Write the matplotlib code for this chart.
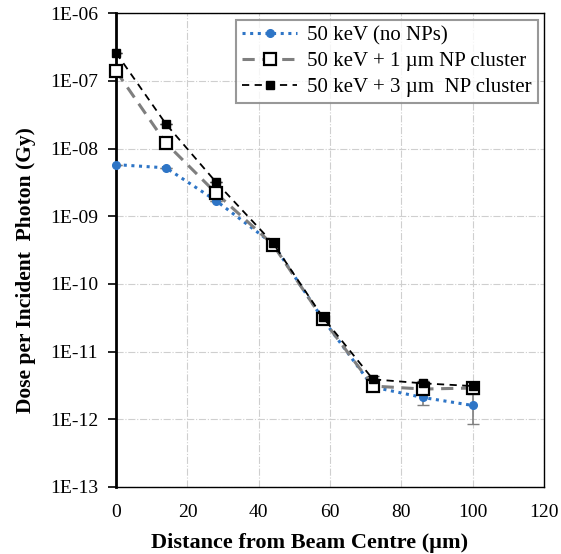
import math
import matplotlib
matplotlib.use("Agg")
import matplotlib.pyplot as plt
from matplotlib.ticker import FixedLocator, FuncFormatter

plt.rcParams['font.family'] = ['Liberation Serif', 'DejaVu Serif']

# distance from beam centre (um)
distance = [0, 14, 28, 44, 58, 72, 86, 100]

# dose per incident photon (Gy)
dose_no_np = [5.8e-9, 5.2e-9, 1.7e-9, 3.9e-10, 3.0e-11, 3.0e-12, 2.1e-12, 1.6e-12]
dose_1um = [1.4e-7, 1.2e-8, 2.2e-9, 3.8e-10, 3.0e-11, 3.1e-12, 2.8e-12, 2.9e-12]
dose_3um = [2.6e-7, 2.3e-8, 3.2e-9, 4.0e-10, 3.2e-11, 3.9e-12, 3.4e-12, 3.1e-12]

# error bars (Gy)
err_no_np = [0, 0, 0, 0, 0, 0, 0.5e-12, 0.75e-12]
err_3um = [0, 0, 0, 0, 0, 0.4e-12, 0.3e-12, 0.4e-12]

labels = ['50 keV (no NPs)', '50 keV + 1 \u00b5m NP cluster', '50 keV + 3 \u00b5m  NP cluster']

fig = plt.figure(figsize=(5.61, 5.54), dpi=100)
ax = fig.add_axes([0.207, 0.121, 0.763, 0.855])

# error bars
ax.errorbar(distance, dose_no_np, yerr=err_no_np, fmt='none', ecolor='#7f7f7f',
            elinewidth=1.2, capsize=4, zorder=2)
ax.errorbar(distance, dose_3um, yerr=err_3um, fmt='none', ecolor='#404040',
            elinewidth=1.2, capsize=4, zorder=2)

# series
ax.plot(distance, dose_no_np, color='#2e75c6', linestyle=(0, (1, 1.5)), linewidth=2.2,
        marker='o', markersize=5.5, label=labels[0], zorder=3, clip_on=False)
ax.plot(distance, dose_1um, color='#7f7f7f', linestyle=(0, (4, 2.5)), linewidth=2.2,
        marker='s', markersize=9, markerfacecolor='white', markeredgecolor='black',
        markeredgewidth=1.6, label=labels[1], zorder=4, clip_on=False)
ax.plot(distance, dose_3um, color='black', linestyle=(0, (4, 3)), linewidth=1.3,
        marker='s', markersize=5.5, label=labels[2], zorder=5, clip_on=False)

ax.set_yscale('log')
ax.set_ylim(1e-13, 1e-6)
ax.set_xlim(0, 120)
ax.set_xticks(range(0, 121, 20))
ax.yaxis.set_major_locator(FixedLocator([10.0 ** e for e in range(-13, -5)]))
ax.yaxis.set_minor_locator(FixedLocator([]))
ax.yaxis.set_major_formatter(FuncFormatter(lambda v, p: '1E-%02d' % round(-math.log10(v))))

ax.grid(True, color='#cfcfcf', linestyle='-.', linewidth=0.8)
ax.set_axisbelow(True)
ax.tick_params(axis='y', labelsize=14, direction='out', length=6, width=1.2, pad=7)
ax.tick_params(axis='x', labelsize=14, length=0, pad=12)
for s in ax.spines.values():
    s.set_linewidth(1.0)
    s.set_color('black')
ax.spines['left'].set_linewidth(2)

ax.set_xlabel('Distance from Beam Centre (\u00b5m)', fontsize=16, fontweight='bold')
ax.set_ylabel('Dose per Incident  Photon (Gy)', fontsize=15.5, fontweight='bold')
ax.xaxis.set_label_coords(0.451, -0.097)
ax.yaxis.set_label_coords(-0.187, 0.458)

leg = ax.legend(loc='upper right', fontsize=15, frameon=True, fancybox=False,
                edgecolor='#7f7f7f', handlelength=2.6, handletextpad=0.5,
                borderaxespad=0.3, labelspacing=0.3, borderpad=0.3)
leg.get_frame().set_linewidth(1.5)

fig.savefig('out.png', dpi=100)
